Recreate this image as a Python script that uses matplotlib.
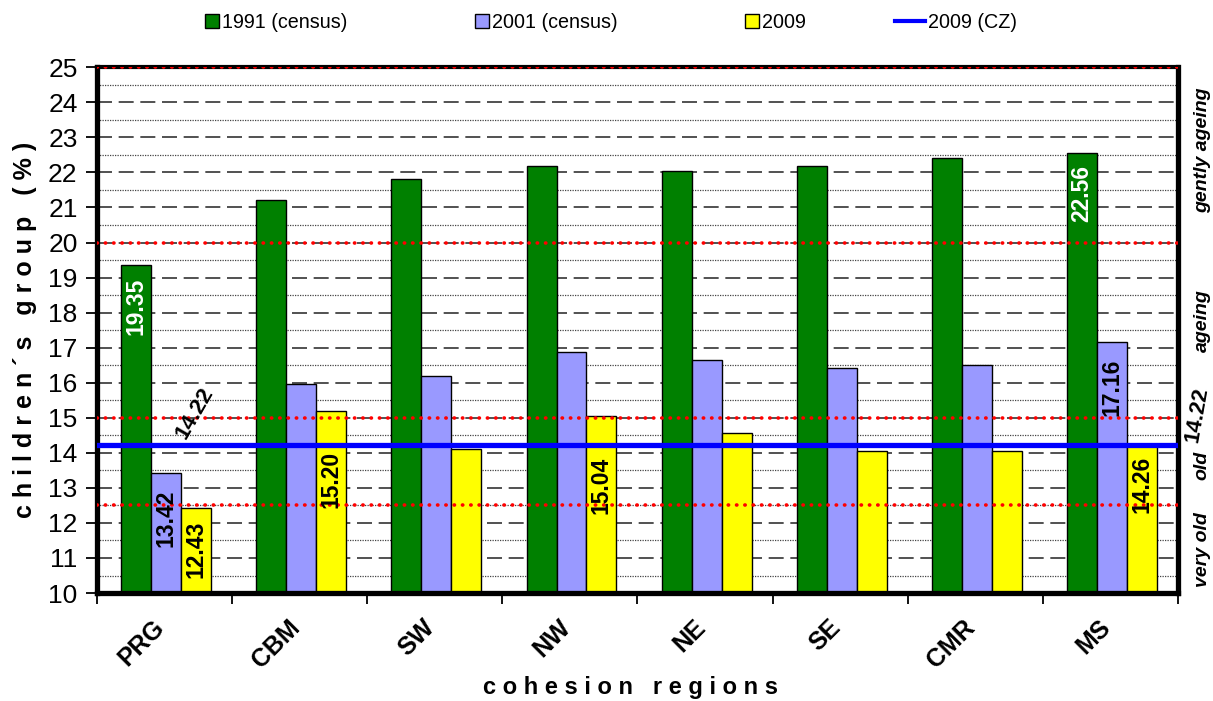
import matplotlib
matplotlib.use('Agg')
import matplotlib.pyplot as plt
import matplotlib.patches as mpatches
import matplotlib.transforms as mtransforms
from matplotlib.lines import Line2D
from matplotlib.legend_handler import HandlerPatch
import numpy as np

plt.rcParams['font.family'] = ['Liberation Sans', 'DejaVu Sans']

# data
regions = ['PRG', 'CBM', 'SW', 'NW', 'NE', 'SE', 'CMR', 'MS']
y1991 = [19.35, 21.22, 21.80, 22.18, 22.03, 22.19, 22.42, 22.56]
y2001 = [13.42, 15.97, 16.19, 16.89, 16.64, 16.41, 16.52, 17.16]
y2009 = [12.43, 15.20, 14.12, 15.04, 14.58, 14.06, 14.06, 14.26]
cz_2009 = 14.22
# which bars carry a value label (index into regions)
label_1991 = [0, 7]
label_2001 = [0, 7]
label_2009 = [0, 1, 3, 7]
class_bounds = [12.5, 15, 20, 25]
class_names = ['very old', 'old', 'ageing', 'gently ageing']
class_pos = [11.23, 13.65, 17.78, 22.63]

c_green = '#008000'
c_lav = '#9999FF'
c_yel = '#FFFF00'
c_blue = '#0000FF'

fig = plt.figure(figsize=(12.13, 7.01), dpi=100)
ax = fig.add_axes([0.080, 0.154, 0.891, 0.750])

x = np.arange(len(regions))
w = 0.222
off = [-0.21, 0.012, 0.234]

# grid behind bars
for v in range(10, 26):
    ax.axhline(v, color='#333333', lw=1.2, ls=(0, (9, 4)), zorder=0)
for v in np.arange(10.5, 25, 1.0):
    ax.axhline(v, color='#444444', lw=0.9, ls=(0, (1, 1)), zorder=0)

ax.bar(x + off[0], np.array(y1991) - 10, w, bottom=10, color=c_green, edgecolor='black', lw=1, zorder=2)
ax.bar(x + off[1], np.array(y2001) - 10, w, bottom=10, color=c_lav, edgecolor='black', lw=1, zorder=2)
ax.bar(x + off[2], np.array(y2009) - 10, w, bottom=10, color=c_yel, edgecolor='black', lw=1, zorder=2)

# class boundaries (red dotted)
for v in class_bounds:
    ax.axhline(v, color='red', lw=2.6, ls=(0, (0.1, 2.2)), dash_capstyle='round', zorder=4)

# CZ average
ax.axhline(cz_2009, color=c_blue, lw=3.8, zorder=5)


# value labels inside bars
def put_labels(idx, vals, dx, color, drop=9, extra=()):
    for i in idx:
        d = drop + (20 if i in extra else 0)
        ax.annotate('%.2f' % vals[i], (x[i] + dx, vals[i]), xytext=(0, -d), textcoords='offset points',
                    rotation=90, ha='center', va='top', fontsize=16.5, fontweight='bold', color=color, zorder=6)


put_labels(label_1991, y1991, off[0], 'white')
put_labels(label_2001, y2001, off[1], 'black', drop=12)
put_labels(label_2009, y2009, off[2], 'black', extra=(1, 3))

ax.text(0.22, 15.13, '%.2f' % cz_2009, rotation=60, ha='center', va='center',
        fontsize=16, fontweight='bold', zorder=6)
ax.text(1.0175, 15.08, '%.2f' % cz_2009, rotation=80, ha='center', va='center',
        fontsize=16, fontweight='bold', transform=ax.get_yaxis_transform(), clip_on=False)

for name, pos in zip(class_names, class_pos):
    ax.text(1.0225, pos, name, rotation=90, ha='center', va='center', fontsize=14,
            fontweight='bold', fontstyle='italic', transform=ax.get_yaxis_transform(), clip_on=False)

ax.set_xlim(-0.5, len(regions) - 0.5)
ax.set_ylim(10, 25)
ax.set_yticks(range(10, 26))
ax.tick_params(axis='y', direction='out', length=8, width=1.3, labelsize=19, pad=6)

ax.set_xticks(x)
ax.set_xticklabels(regions, rotation=45, ha='right', va='top', rotation_mode='anchor',
                   fontsize=18, fontweight='bold')
ax.tick_params(axis='x', which='major', length=0, pad=16)
shift = mtransforms.ScaledTranslation(-12 / 100, 0, fig.dpi_scale_trans)
for lab in ax.get_xticklabels():
    lab.set_transform(lab.get_transform() + shift)
ax.set_xticks(np.arange(-0.5, len(regions)), minor=True)
ax.tick_params(axis='x', which='minor', direction='out', length=8, width=1.3)

for s in ['left', 'bottom', 'right']:
    ax.spines[s].set_linewidth(3.8)
    ax.spines[s].set_color('black')
ax.spines['top'].set_linewidth(3)
ax.spines['top'].set_color('black')

fig.text(25 / 1213, 0.529, 'c h i l d r e n ´ s   g r o u p   ( % )', rotation=90,
         ha='center', va='center', fontsize=18, fontweight='bold')
fig.text(630 / 1213, 0.019, 'c o h e s i o n   r e g i o n s', ha='center', va='center',
         fontsize=17, fontweight='bold')


def square(legend, orig_handle, xdescent, ydescent, width, height, fontsize):
    return mpatches.Rectangle((-xdescent, -ydescent), height, height)


# legend entries placed one by one (left edge of the key, in pixels)
handles = [mpatches.Patch(facecolor=c_green, edgecolor='black', label='1991 (census)'),
           mpatches.Patch(facecolor=c_lav, edgecolor='black', label='2001 (census)'),
           mpatches.Patch(facecolor=c_yel, edgecolor='black', label='2009'),
           Line2D([], [], color=c_blue, lw=3, label='2009 (CZ)')]
key_left = [205, 475, 745, 895]
for h, xl in zip(handles, key_left):
    hl = 1.5 if isinstance(h, Line2D) else 0.7
    fig.legend(handles=[h], loc='center left', bbox_to_anchor=(xl / 1213, 1 - 22 / 701),
               frameon=False, fontsize=14.2, borderpad=0, borderaxespad=0,
               handlelength=hl, handletextpad=0.15,
               handler_map={mpatches.Patch: HandlerPatch(patch_func=square)})

fig.savefig('out.png', dpi=100)
